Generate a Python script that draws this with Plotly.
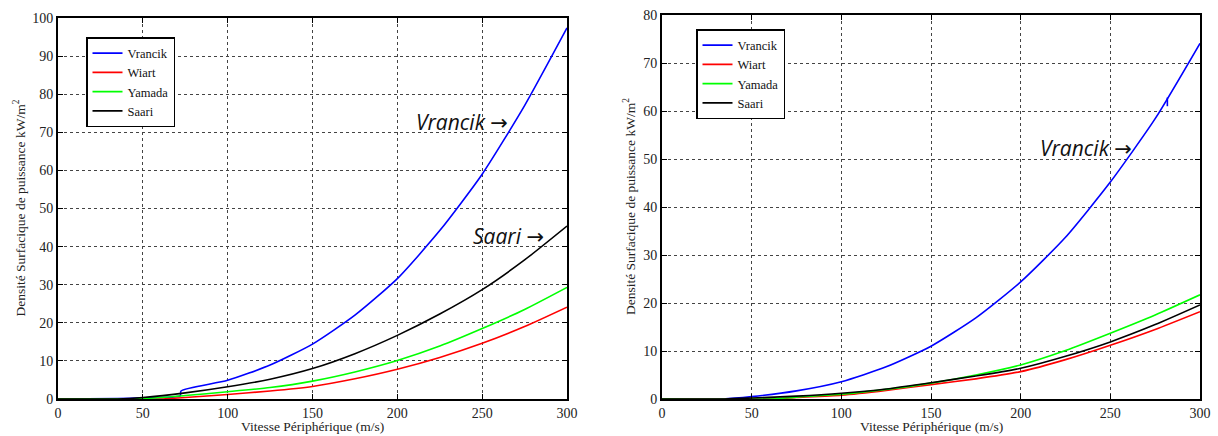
import plotly.graph_objects as go

# ---------------- data ----------------
# Left chart
vr_l_x = [0, 35, 50, 72, 72.5, 100, 125, 150, 175, 200, 225, 250, 275, 300]
vr_l_y = [0, 0.1, 0.3, 0.8, 2.1, 4.9, 8.9, 14.4, 22.0, 31.6, 44.2, 59.0, 77.0, 97.4]
wi_l_x = [0, 60, 75, 100, 125, 150, 175, 200, 225, 250, 275, 300]
wi_l_y = [0, 0.0, 0.4, 1.2, 2.1, 3.3, 5.3, 7.8, 10.9, 14.6, 19.0, 24.1]
ya_l_x = [0, 50, 75, 100, 125, 150, 175, 200, 225, 250, 275, 300]
ya_l_y = [0, 0.1, 0.9, 1.9, 3.0, 4.7, 7.1, 10.1, 13.9, 18.5, 23.5, 29.3]
sa_l_x = [0, 35, 50, 75, 100, 125, 150, 175, 200, 225, 250, 275, 300]
sa_l_y = [0, 0.0, 0.4, 1.6, 3.2, 5.2, 8.0, 11.9, 16.7, 22.3, 28.7, 36.5, 45.4]

# Right chart
vr_r_x = [0, 34, 50, 75, 100, 125, 150, 175, 200, 225, 250, 275, 300]
vr_r_y = [0, 0.0, 0.5, 1.7, 3.6, 6.7, 11.0, 16.9, 24.4, 33.7, 45.2, 58.4, 74.1]
vr_r_glitch_x = [281.8, 281.8]
vr_r_glitch_y = [62.8, 61.0]
wi_r_x = [0, 60, 75, 100, 125, 150, 175, 200, 225, 250, 275, 300]
wi_r_y = [0, 0.0, 0.3, 0.8, 1.8, 3.0, 4.2, 5.7, 8.2, 11.2, 14.5, 18.2]
ya_r_x = [0, 60, 75, 100, 125, 150, 175, 200, 225, 250, 275, 300]
ya_r_y = [0, 0.0, 0.4, 1.0, 2.0, 3.3, 5.0, 7.1, 10.1, 13.7, 17.5, 21.7]
sa_r_x = [0, 35, 50, 75, 100, 125, 150, 175, 200, 225, 250, 275, 300]
sa_r_y = [0, 0.0, 0.2, 0.6, 1.2, 2.1, 3.4, 4.8, 6.4, 8.9, 11.9, 15.5, 19.6]

names = ["Vrancik", "Wiart", "Yamada", "Saari"]
colors = ["#0000ff", "#ff0000", "#00ff00", "#000000"]

x_ticks = [0, 50, 100, 150, 200, 250, 300]
y_ticks_l = list(range(0, 101, 10))
y_ticks_r = list(range(0, 81, 10))

x_title = "Vitesse Périphérique (m/s)"
y_title = "Densité Surfacique de puissance kW/m<sup>2</sup>"

# ---------------- figure ----------------
fig = go.Figure()

left_series = [(vr_l_x, vr_l_y), (wi_l_x, wi_l_y), (ya_l_x, ya_l_y), (sa_l_x, sa_l_y)]
right_series = [(vr_r_x, vr_r_y), (wi_r_x, wi_r_y), (ya_r_x, ya_r_y), (sa_r_x, sa_r_y)]

for (xs, ys), n, c in zip(left_series, names, colors):
    fig.add_trace(go.Scatter(x=xs, y=ys, name=n, mode="lines",
                             line=dict(color=c, width=1.6, shape="spline", smoothing=0.6),
                             xaxis="x", yaxis="y", legend="legend"))
for (xs, ys), n, c in zip(right_series, names, colors):
    fig.add_trace(go.Scatter(x=xs, y=ys, name=n, mode="lines",
                             line=dict(color=c, width=1.6, shape="spline", smoothing=0.6),
                             xaxis="x2", yaxis="y2", legend="legend2"))
fig.add_trace(go.Scatter(x=vr_r_glitch_x, y=vr_r_glitch_y, mode="lines", showlegend=False,
                         line=dict(color=colors[0], width=1.6), xaxis="x2", yaxis="y2"))

W, H = 1218, 436
tickfont = dict(family="Liberation Serif, Times New Roman, serif", size=14, color="#222")

def axis_common(**kw):
    d = dict(showline=True, linecolor="black", linewidth=2, mirror="ticks",
             ticks="inside", ticklen=5, tickwidth=1, tickcolor="black",
             showgrid=True, gridcolor="#444", gridwidth=1, griddash="dot",
             zeroline=False, tickfont=tickfont, fixedrange=True, automargin=False)
    d.update(kw)
    return d

legfont = dict(family="Liberation Serif, Times New Roman, serif", size=12.5, color="#111")
fig.update_layout(
    width=W, height=H,
    margin=dict(l=0, r=0, t=0, b=0, autoexpand=False),
    paper_bgcolor="white", plot_bgcolor="white",
    xaxis=axis_common(domain=[58 / W, 567 / W], range=[0, 300], tickvals=x_ticks, anchor="y"),
    yaxis=axis_common(domain=[(H - 399) / H, (H - 18) / H], range=[0, 100], tickvals=y_ticks_l, anchor="x"),
    xaxis2=axis_common(domain=[662 / W, 1200 / W], range=[0, 300], tickvals=x_ticks, anchor="y2"),
    yaxis2=axis_common(domain=[(H - 399) / H, (H - 15) / H], range=[0, 80], tickvals=y_ticks_r, anchor="x2"),
    legend=dict(x=86 / W, y=(H - 37) / H, xanchor="left", yanchor="top",
                bgcolor="white", bordercolor="black", borderwidth=1.5,
                font=legfont, itemwidth=30, tracegroupgap=0),
    legend2=dict(x=696 / W, y=(H - 29) / H, xanchor="left", yanchor="top",
                 bgcolor="white", bordercolor="black", borderwidth=1.5,
                 font=legfont, itemwidth=30, tracegroupgap=0),
    showlegend=True,
)

titlefont = dict(family="Liberation Serif, Times New Roman, serif", size=13.5, color="#222")
ann = []
# x axis titles
ann.append(dict(text=x_title, xref="x domain", yref="paper", x=0.5, y=(H - 426) / H,
                xanchor="center", yanchor="middle", showarrow=False, font=titlefont))
ann.append(dict(text=x_title, xref="x2 domain", yref="paper", x=0.5, y=(H - 426) / H,
                xanchor="center", yanchor="middle", showarrow=False, font=titlefont))
# y axis titles
ann.append(dict(text=y_title, xref="paper", yref="y domain", x=20 / W, y=0.5, textangle=-90,
                xanchor="center", yanchor="middle", showarrow=False, font=titlefont))
ann.append(dict(text=y_title, xref="paper", yref="y2 domain", x=630 / W, y=0.5, textangle=-90,
                xanchor="center", yanchor="middle", showarrow=False, font=titlefont))
# in-plot labels
labfont = dict(family="Open Sans, DejaVu Sans, sans-serif", size=21, color="#111")
ann.append(dict(text="<i>Vrancik</i> →", xref="x", yref="y", x=266.5, y=72.7,
                xanchor="right", yanchor="middle", showarrow=False, font=labfont))
ann.append(dict(text="<i>Saari</i> →", xref="x", yref="y", x=287.5, y=42.8,
                xanchor="right", yanchor="middle", showarrow=False, font=labfont))
ann.append(dict(text="<i>Vrancik</i> →", xref="x2", yref="y2", x=263, y=52.3,
                xanchor="right", yanchor="middle", showarrow=False, font=labfont))
fig.update_layout(annotations=ann)

fig.write_html("out.html",
               config={"displayModeBar": False},
               post_script="document.body.style.margin='0px';document.body.style.overflow='hidden';")
